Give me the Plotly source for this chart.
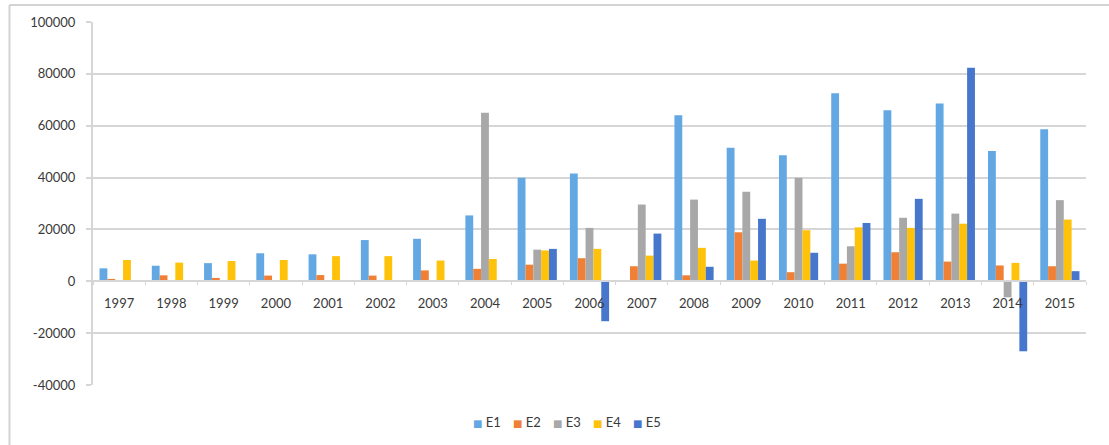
import plotly.graph_objects as go

# Yearly values for the five series
years = [str(y) for y in range(1997, 2016)]
E1 = [5000, 6000, 7000, 10800, 10400, 15900, 16400, 25400, 39900, 41600,
      0, 64000, 51500, 48600, 72500, 66000, 68600, 50200, 58600]
E2 = [900, 2300, 1300, 2200, 2400, 2200, 4200, 4800, 6400, 8900,
      5800, 2300, 18900, 3500, 6800, 11200, 7600, 6100, 5800]
E3 = [0, 0, 0, 0, 0, 0, 0, 65000, 12200, 20600,
      29600, 31500, 34500, 39900, 13500, 24500, 26100, -6200, 31300]
E4 = [8200, 7200, 7800, 8200, 9700, 9700, 8000, 8600, 11900, 12500,
      9900, 12900, 8000, 19700, 20800, 20600, 22200, 7100, 23800]
E5 = [0, 0, 0, 0, 0, 0, 0, 0, 12500, -15400,
      18400, 5600, 24100, 11000, 22500, 31800, 82400, -27000, 3900]

# value axis ticks (plain hyphen for negatives)
y_ticks = [-40000, -20000, 0, 20000, 40000, 60000, 80000, 100000]
y_tick_text = [str(v) for v in y_ticks]

series = [("E1", E1, "#63A8E3"), ("E2", E2, "#EF8035"), ("E3", E3, "#A8A8A8"),
          ("E4", E4, "#FFC20A"), ("E5", E5, "#4677CC")]

Y_MIN, Y_MAX = -40000, 100000
FONT = "Lato, 'Open Sans', sans-serif"
TEXT = "#3A3A3A"
GRID = "#D6D6D6"

fig = go.Figure()
for name, vals, col in series:
    fig.add_trace(go.Bar(x=years, y=vals, name=name, marker_color=col,
                         marker_line_width=0, showlegend=False))

# compact legend row: colour square followed closely by the series name
legend_x0 = 0.381      # paper x of the first key
legend_step = 0.0403   # spacing between keys
legend_y = -0.103
annotations = []
for i, (name, vals, col) in enumerate(series):
    annotations.append(dict(
        xref="paper", yref="paper", x=legend_x0 + i * legend_step, y=legend_y,
        xanchor="left", yanchor="middle", showarrow=False,
        text=f"<span style='color:{col};font-family:DejaVu Sans;font-size:10px'>■</span> {name}",
        font=dict(family=FONT, size=13, color=TEXT)))

fig.update_layout(
    width=1109, height=445,
    margin=dict(l=93, r=23, t=22, b=60),
    paper_bgcolor="white", plot_bgcolor="white",
    barmode="group", bargap=0.25, bargroupgap=0,
    font=dict(family=FONT, size=13, color=TEXT),
    showlegend=False,
    annotations=annotations,
    shapes=[
        dict(type="line", xref="paper", yref="paper", x0=-0.0841, x1=1.2,
             y0=1.0468, y1=1.0468, line=dict(color="#D3D3D3", width=2)),
        dict(type="line", xref="paper", yref="paper", x0=-0.0841, x1=-0.0841,
             y0=-0.3, y1=1.0468, line=dict(color="#D3D3D3", width=2)),
    ],
)

fig.update_yaxes(
    range=[Y_MIN, Y_MAX], tickvals=y_ticks, ticktext=y_tick_text,
    showgrid=True, gridcolor=GRID, gridwidth=2,
    zeroline=True, zerolinecolor=GRID, zerolinewidth=2,
    showline=True, linecolor=GRID, linewidth=2,
    ticks="outside", ticklen=5, tickcolor=GRID, tickwidth=2,
    ticklabelstandoff=8, tickfont=dict(size=13, color=TEXT),
)

fig.update_xaxes(
    type="category", anchor="free",
    position=(0 - Y_MIN) / (Y_MAX - Y_MIN),
    showline=True, linecolor=GRID, linewidth=2,
    ticks="outside", tickson="boundaries", ticklen=3, tickcolor=GRID,
    tickwidth=1, showgrid=False, ticklabelstandoff=10,
    tickfont=dict(size=13, color=TEXT),
)

fig.write_html("out.html")
